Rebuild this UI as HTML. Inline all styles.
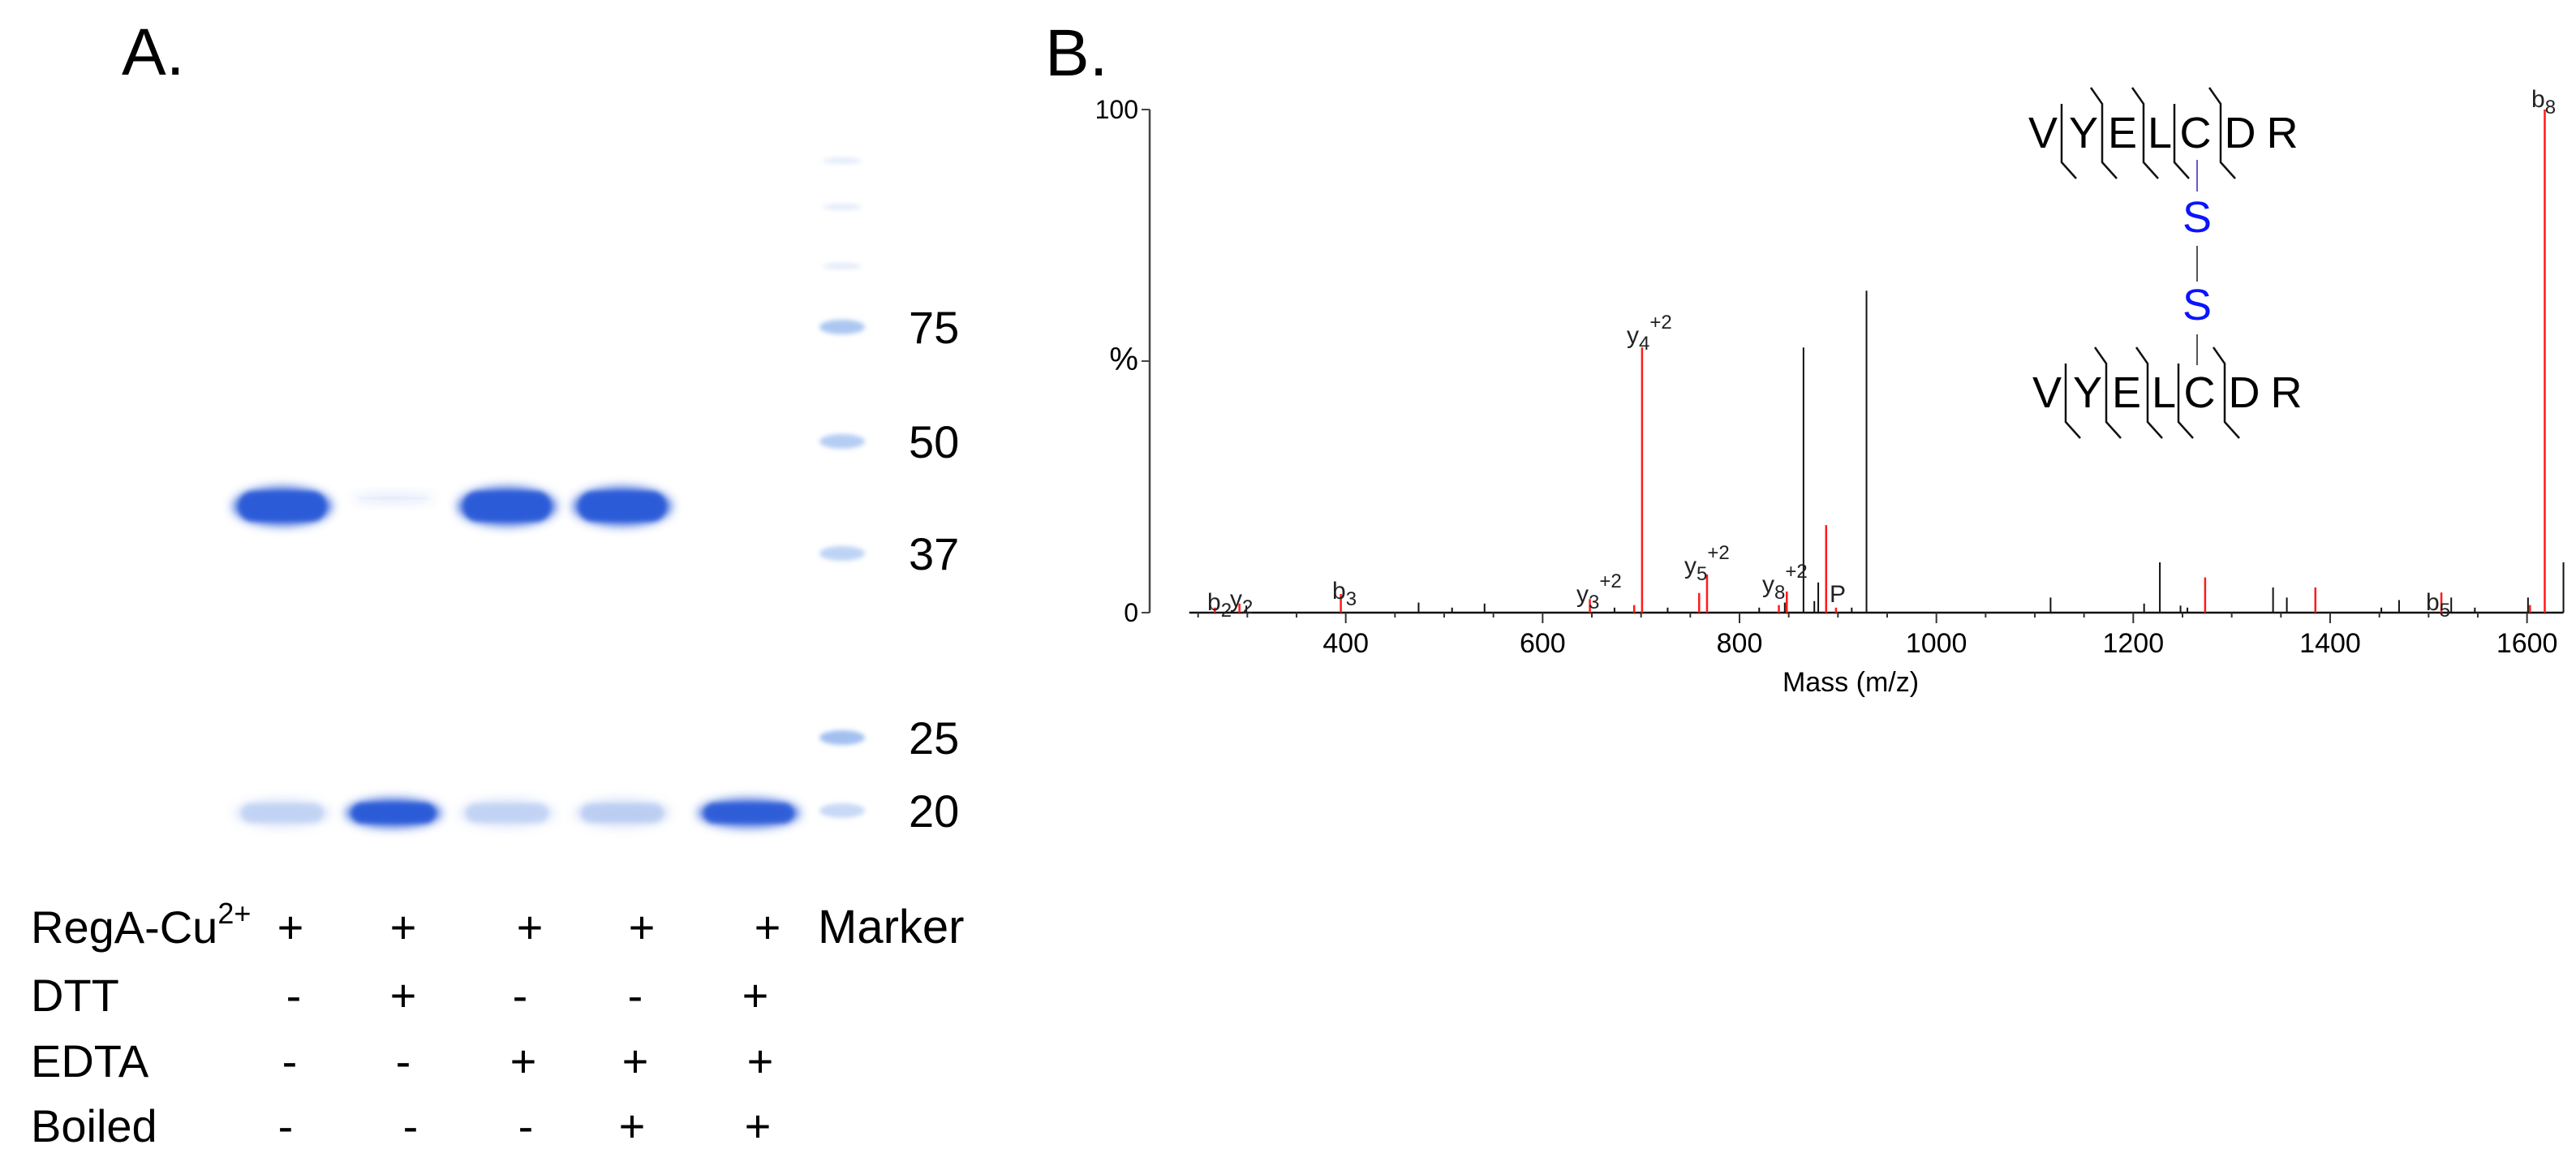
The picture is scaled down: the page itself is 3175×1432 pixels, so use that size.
<!DOCTYPE html>
<html><head><meta charset="utf-8">
<style>
html,body{margin:0;padding:0;background:#fff;}
body{width:3175px;height:1432px;overflow:hidden;position:relative;}
svg{position:absolute;left:0;top:0;}
.lab{font-family:"Liberation Sans",sans-serif;}
.nar{font-family:"Liberation Sans Narrow","Liberation Sans",sans-serif;}
</style></head>
<body>
<svg id="fig" width="3175" height="1432" viewBox="0 0 3175 1432" xmlns="http://www.w3.org/2000/svg">
<defs>
<filter id="blur6" x="-50%" y="-50%" width="200%" height="200%"><feGaussianBlur stdDeviation="6"/></filter>
<filter id="blur3" x="-50%" y="-50%" width="200%" height="200%"><feGaussianBlur stdDeviation="3"/></filter>
</defs>
<text class="lab" x="150" y="92" font-size="82">A.</text>
<text class="lab" x="1288" y="93" font-size="82">B.</text>
<g id="gel"></g>
<g id="gelLabels"></g>
<g id="table"></g>
<g id="spec"></g>
<g id="pep"></g>
</svg>
<script>
// ---------- Gel data ----------
const laneCenters = [348, 485, 625, 767, 923];
const upperBandStrength = [1.0, 0.12, 1.0, 1.0, 0.0];
const lowerBandStrength = [0.22, 1.0, 0.22, 0.25, 0.95];
const markerSizes = ["75", "50", "37", "25", "20"];
const markerY = [403, 544, 682, 909, 999];
const markerStrength = [0.45, 0.4, 0.35, 0.5, 0.3];

// ---------- Table data ----------
const rowNames = ["RegA-Cu", "DTT", "EDTA", "Boiled"];
const rowSigns = [["+","+","+","+","+"],["-","+","-","-","+"],["-","-","+","+","+"],["-","-","-","+","+"]];

// ---------- Spectrum data ----------
const peakMass = [267,292,299,395,474,508,541,648,673,693,701,727,759,767,820,840,846,848,865,876,880,888,898,914,929,1116,1211,1227,1248,1255,1273,1342,1356,1385,1452,1470,1513,1523,1547,1601,1603,1618,1637];
const peakInt  = [1,1.8,1.4,3.7,2,1,1.8,2.7,1,1.5,52.7,1,3.9,7.6,1,1.5,2,4.2,52.7,2.3,6,17.4,1,1,64,3,1.8,10,1.4,1,7,5,3,5,1,2.5,4,3,1,3,1.5,100,10];
const peakRed  = [1,1,0,1,0,0,0,1,0,1,1,0,1,1,0,1,0,1,0,0,0,1,1,0,0,0,0,0,0,0,1,0,0,1,0,0,1,0,0,0,1,1,0];
const xTicks = [400,600,800,1000,1200,1400,1600];
const yTickLabels = ["100","%","0"];
const yTickValues = [100,50,0];
const ionLabels = [["b","2","",1488,752],["y","2","",1516,748],["b","3","",1642,738],["y","3","+2",1943,742],["y","4","+2",2005,423],["y","5","+2",2076,707],["y","8","+2",2172,730],["P","","",2255,742],["b","5","",2990,752],["b","8","",3120,132]];

const NS="http://www.w3.org/2000/svg";
function mk(tag, attrs, parent){const e=document.createElementNS(NS,tag);for(const k in attrs)e.setAttribute(k,attrs[k]);parent.appendChild(e);return e;}

// ---------- Gel ----------
const gel=document.getElementById('gel');
function band(cx,cy,w,h,s,dark){
  if(s<=0) return;
  const col = dark ? `rgba(40,90,215,${s})` : `rgba(80,130,225,${s})`;
  const g=mk('g',{},gel);
  mk('ellipse',{cx:cx,cy:cy,rx:w/2,ry:h/2,fill:col,filter:'url(#blur6)'},g);
  mk('rect',{x:cx-w/2+8,y:cy-h/2+6,width:w-16,height:h-12,rx:h/3,fill:col,filter:'url(#blur3)'},g);
  return g;
}
laneCenters.forEach((cx,i)=>{
  const s=upperBandStrength[i];
  const ub=band(cx,s<0.5?614:624,s<0.5?100:122,s<0.5?14:48,s*0.9,true);
  if(ub){}
  const lb=band(cx,1002,i===4?126:118,36,lowerBandStrength[i]*0.9,lowerBandStrength[i]>0.5);
  if(lb){}
});
const gl=document.getElementById('gelLabels');
markerY.forEach((y,i)=>{
  const b=mk('ellipse',{cx:1038,cy:y,rx:28,ry:9,fill:`rgba(70,130,225,${markerStrength[i]})`,filter:'url(#blur3)'},gel);
  
  
  const t=mk('text',{x:1120,y:y+20,'font-size':56,class:'lab'},gl);
  t.textContent=markerSizes[i];
  
  
});
[198,255,328].forEach(y=>{const b=mk('ellipse',{cx:1038,cy:y,rx:24,ry:4,fill:'rgba(120,160,230,0.2)',filter:'url(#blur3)'},gel);
  
  });

// ---------- Table ----------
const tb=document.getElementById('table');
const rowBase=[1162,1246,1327,1407];
const colX=[[358,497,653,791,946],[362,497,641,783,931],[357,497,645,783,937],[352,506,648,779,934]];
rowNames.forEach((n,r)=>{
  const t=mk('text',{x:38,y:rowBase[r],'font-size':56,class:'lab'},tb);
  t.textContent=n;
  
  
  if(r===0){const s=mk('tspan',{'font-size':36,dy:-24},t);s.textContent='2+';}
  rowSigns[r].forEach((s,c)=>{
    const st=mk('text',{x:colX[r][c],y:rowBase[r],'font-size':56,class:'lab','text-anchor':'middle'},tb);
    st.textContent=s;
    
    
  });
});
const mt=mk('text',{x:1008,y:1162,'font-size':58,class:'lab'},tb);
mt.textContent='Marker';



// ---------- Spectrum ----------
const sp=document.getElementById('spec');
const X0=2144, M0=800, KX=1.2133, Y0=755, KY=6.2;
const xs=m=>X0+(m-M0)*KX;
const ys=v=>Y0-v*KY;
const yAxis=mk('line',{x1:1417,y1:ys(100),x2:1417,y2:ys(0),stroke:'#444','stroke-width':2.5},sp);


yTickValues.forEach((v,i)=>{
  mk('line',{x1:1407,y1:ys(v),x2:1417,y2:ys(v),stroke:'#444','stroke-width':2},sp);
  const t=mk('text',{x:1403,y:ys(v)+11,'font-size':i===1?40:32,class:'lab','text-anchor':'end'},sp);
  t.textContent=yTickLabels[i];
  
  
});
const xAxis=mk('line',{x1:xs(241),y1:Y0,x2:xs(1637),y2:Y0,stroke:'#111','stroke-width':2.5},sp);


for(let m=250;m<=1636;m+=50){
  const major=(m%200===0);
  mk('line',{x1:xs(m),y1:Y0,x2:xs(m),y2:Y0+(major?13:6),stroke:'#333','stroke-width':2},sp);
}
xTicks.forEach(m=>{
  const t=mk('text',{x:xs(m),y:Y0+49,'font-size':34,class:'lab','text-anchor':'middle'},sp);
  t.textContent=String(m);
  
  
});
const xt=mk('text',{x:2281,y:852,'font-size':34,class:'lab','text-anchor':'middle'},sp);
xt.textContent='Mass (m/z)';


peakMass.forEach((m,i)=>{
  const l=mk('line',{x1:xs(m),y1:Y0,x2:xs(m),y2:ys(peakInt[i]),stroke:peakRed[i]?'#ff1a1a':'#111','stroke-width':peakRed[i]?2.5:2},sp);
  
  
});
ionLabels.forEach(L=>{
  const t=mk('text',{x:L[3],y:L[4],'font-size':30,class:'nar',fill:'#222'},sp);
  
  
  t.appendChild(document.createTextNode(L[0]));
  if(L[1]){const s=mk('tspan',{'font-size':24,dy:8},t);s.textContent=L[1];}
  if(L[2]){const s=mk('tspan',{'font-size':24,dy:-26},t);s.textContent=L[2];}
});

// ---------- Peptide ----------
const pep=document.getElementById('pep');
const letters=["V","Y","E","L","C","D","R"];
const letterX=[2518,2568,2616,2662,2706,2761,2813];
const barX=[2541,2591,2642,2680,2737];
const topHook=[0,1,1,0,1];
function peptide(dx,dy,tag){
  const g=mk('g',{transform:`translate(${dx},${dy})`},pep);
  
  
  letters.forEach((c,i)=>{const t=mk('text',{x:letterX[i],y:182,'font-size':54,class:'lab','text-anchor':'middle'},g);t.textContent=c;});
  barX.forEach((x,i)=>{
    let d=`M${x},${topHook[i]?130:128} L${x},200 L${x+18},220`;
    if(topHook[i]) d=`M${x-14},108 L${x},128 `+d.replace('M','L');
    mk('path',{d:d,fill:'none',stroke:'#111','stroke-width':2.5},g);
  });
}
peptide(0,0,'top');
peptide(5,320,'bottom');
mk('line',{x1:2708,y1:197,x2:2708,y2:236,stroke:'#6a5acd','stroke-width':2},pep);
mk('line',{x1:2708,y1:303,x2:2708,y2:347,stroke:'#555','stroke-width':2},pep);
mk('line',{x1:2708,y1:412,x2:2708,y2:450,stroke:'#555','stroke-width':2},pep);
[286,394].forEach((y,i)=>{const t=mk('text',{x:2708,y:y,'font-size':54,class:'lab','text-anchor':'middle',fill:'#0a14ff'},pep);t.textContent='S';
  
  });
</script>
</body></html>
